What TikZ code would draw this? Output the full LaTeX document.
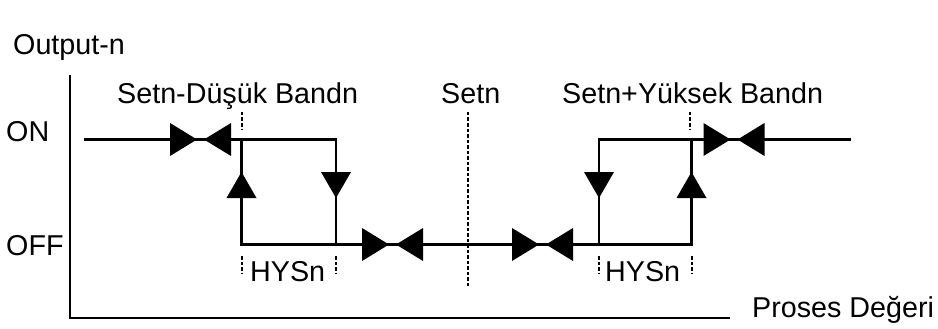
\documentclass[tikz,border=0pt]{standalone}
\usepackage{fontspec}
\setmainfont{Liberation Sans}
\begin{document}
\begin{tikzpicture}[x=1pt,y=-1pt,
  line/.style={line width=2.3pt},
  axis/.style={line width=2.5pt},
  tick/.style={line width=2pt,dash pattern=on 3.5pt off 2pt},
  lbl/.style={inner sep=0pt,anchor=base west,font=\fontsize{28.7}{34}\selectfont},
  bowtie/.pic={\fill (-30.5,-16.5)--(-3.5,0)--(-30.5,16.5)--cycle;
               \fill (30.5,-16.5)--(3.5,0)--(30.5,16.5)--cycle;},
  uptri/.pic={\fill (-15,13)--(0,-13)--(15,13)--cycle;},
  downtri/.pic={\fill (-15,-13)--(0,13)--(15,-13)--cycle;}]
\useasboundingbox (0,0) rectangle (938,329);
% axes
\coordinate (O) at (70,318);
\coordinate (Ytop) at (70,75);
\coordinate (Xend) at (730,318);
\draw[axis] (Ytop) -- (O) -- (Xend);
% labels
\node[lbl] (lout) at (13,55) {Output-n};
\node[lbl] (lon) at (6,142) {ON};
\node[lbl] (loff) at (6,255) {OFF};
\node[lbl] (llow) at (117,103) {Setn-Düşük Bandn};
\node[lbl] (lset) at (441,103) {Setn};
\node[lbl] (lhigh) at (562,103) {Setn+Yüksek Bandn};
\node[lbl] (lhys1) at (250,281) {HYSn};
\node[lbl] (lhys2) at (605,281) {HYSn};
\node[lbl] (lpv) at (752,317) {Proses Değeri};
% key points
\coordinate (onL) at (84,139.5);
\coordinate (A1) at (241.5,139.5);
\coordinate (B1) at (336,139.5);
\coordinate (A2) at (241.5,244.5);
\coordinate (B2) at (336,244.5);
\coordinate (C1) at (599,139.5);
\coordinate (D1) at (691.5,139.5);
\coordinate (C2) at (599,244.5);
\coordinate (D2) at (691.5,244.5);
\coordinate (onR) at (851,139.5);
% hysteresis paths
\draw[line] (onL) -- (A1) -- (B1) -- (B2) -- (A2) -- (A1);
\draw[line] (B2) -- (C2) -- (C1) -- (D1) -- (D2) -- (C2);
\draw[line] (D1) -- (onR);
% arrowheads
\pic at (200.5,139.5) {bowtie};
\pic at (392.5,244.5) {bowtie};
\pic at (542.5,244.5) {bowtie};
\pic at (734,139.5) {bowtie};
\pic at (241.5,185) {uptri};
\pic at (336,185) {downtri};
\pic at (599,185) {downtri};
\pic at (691.5,185) {uptri};
% dashed ticks
\coordinate (s1) at (467.5,112);
\coordinate (s2) at (467.5,286);
\draw[tick] (s1) -- (s2);
\coordinate (t1a) at (242,112); \coordinate (t1b) at (242,130);
\coordinate (t2a) at (690,112); \coordinate (t2b) at (690,130);
\draw[tick] (t1a) -- (t1b);
\draw[tick] (t2a) -- (t2b);
\coordinate (h1a) at (241.5,256); \coordinate (h1b) at (241.5,273);
\coordinate (h2a) at (336,256); \coordinate (h2b) at (336,273);
\coordinate (h3a) at (598.5,256); \coordinate (h3b) at (598.5,273);
\coordinate (h4a) at (691.5,256); \coordinate (h4b) at (691.5,273);
\draw[tick] (h1a) -- (h1b);
\draw[tick] (h2a) -- (h2b);
\draw[tick] (h3a) -- (h3b);
\draw[tick] (h4a) -- (h4b);
\end{tikzpicture}
\end{document}
